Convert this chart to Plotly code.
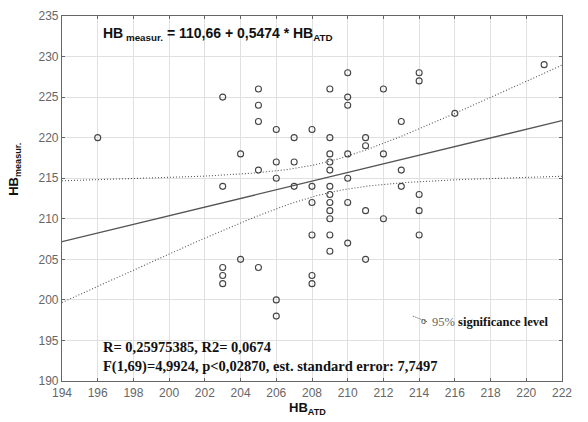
import numpy as np
import plotly.graph_objects as go

# Measured hardness vs. hardness from ATD
hb_atd = [196, 203, 203, 203, 203, 203, 204, 204, 205, 205, 205, 205, 205,
          206, 206, 206, 206, 206, 207, 207, 207, 208, 208, 208, 208, 208, 208,
          209, 209, 209, 209, 209, 209, 209, 209, 209, 209, 209, 209,
          210, 210, 210, 210, 210, 210, 210, 211, 211, 211, 211,
          212, 212, 212, 213, 213, 213, 214, 214, 214, 214, 214, 216, 221]
hb_measured = [220, 225, 214, 204, 203, 202, 218, 205, 226, 224, 222, 216, 204,
               221, 217, 215, 200, 198, 220, 217, 214, 221, 214, 212, 208, 203, 202,
               226, 220, 218, 217, 216, 214, 213, 212, 211, 210, 208, 206,
               228, 225, 224, 218, 215, 212, 207, 220, 219, 211, 205,
               226, 218, 210, 222, 216, 214, 228, 227, 213, 211, 208, 223, 229]

x_ticks = list(range(194, 223, 2))
y_ticks = list(range(190, 236, 5))

equation_text = "HB<sub> measur.</sub> = 110,66 + 0,5474 * HB<sub>ATD</sub>"
stats_line1 = "R= 0,25975385, R2= 0,0674"
stats_line2 = "F(1,69)=4,9924, p<0,02870, est. standard error: 7,7497"
T_CRIT = 1.999

# least-squares line and 95% confidence band of the mean
x = np.array(hb_atd, dtype=float)
y = np.array(hb_measured, dtype=float)
slope, intercept = np.polyfit(x, y, 1)
n = len(x)
resid = y - (intercept + slope * x)
s = np.sqrt(np.sum(resid ** 2) / (n - 2))
sxx = np.sum((x - x.mean()) ** 2)
xs = np.linspace(194, 222, 200)
ys = intercept + slope * xs
half = T_CRIT * s * np.sqrt(1.0 / n + (xs - x.mean()) ** 2 / sxx)

band_line = dict(color="#555", width=1.1, dash="1px,2px")
fig = go.Figure()
fig.add_trace(go.Scatter(x=xs, y=ys + half, mode="lines", line=band_line,
                         hoverinfo="skip"))
fig.add_trace(go.Scatter(x=xs, y=ys - half, mode="lines", line=band_line,
                         hoverinfo="skip"))
fig.add_trace(go.Scatter(x=xs, y=ys, mode="lines",
                         line=dict(color="#555", width=1.3)))
fig.add_trace(go.Scatter(x=hb_atd, y=hb_measured, mode="markers",
                         marker=dict(symbol="circle-open", size=6,
                                     color="#444", line=dict(width=1.1))))

axis_common = dict(showgrid=True, gridcolor="#e0e0e0", gridwidth=1,
                   showline=True, linecolor="#666", linewidth=1.2, mirror="allticks",
                   ticks="inside", ticklen=3, tickcolor="#666", zeroline=False,
                   tickfont=dict(family="Liberation Sans, Arial", size=12, color="#666"))

fig.update_xaxes(range=[194, 222], tickvals=x_ticks, **axis_common)
fig.update_yaxes(range=[190, 235], tickvals=y_ticks, **axis_common)

fig.add_annotation(xref="paper", yref="paper", x=0.078, y=0.95,
                   xanchor="left", yanchor="middle", showarrow=False,
                   text="<b>" + equation_text + "</b>",
                   font=dict(family="Liberation Sans, Arial", size=14, color="#111"))

# regression statistics block
fig.add_annotation(xref="paper", yref="paper", x=0.078, y=0.0645,
                   xanchor="left", yanchor="middle", showarrow=False, align="left",
                   text="<b>" + stats_line1 + "<br>" + stats_line2 + "</b>",
                   font=dict(family="Liberation Serif, Times New Roman", size=14.5, color="#111"))

# legend key for the confidence band
fig.add_shape(type="line", xref="x", yref="y", x0=213.65, y0=198.0, x1=214.45, y1=197.3,
              line=dict(color="#555", width=1, dash="1px,1px"))
fig.add_annotation(x=214.25, y=197.45, xref="x", yref="y", showarrow=False,
                   text="o", font=dict(family="Liberation Sans", size=9, color="#444"))
fig.add_annotation(xref="x", yref="y", x=214.6, y=197.25, xanchor="left",
                   yanchor="middle", showarrow=False,
                   text="<span style='color:#666'>95%</span> <b>significance level</b>",
                   font=dict(family="Liberation Serif, Times New Roman", size=12.5, color="#111"))

# axis titles
fig.add_annotation(xref="paper", yref="paper", x=0.49, y=-0.075,
                   xanchor="center", yanchor="middle", showarrow=False,
                   text="<b>HB<sub>ATD</sub></b>",
                   font=dict(family="Liberation Sans, Arial", size=13, color="#111"))
fig.add_annotation(xref="paper", yref="paper", x=-0.095, y=0.58,
                   xanchor="center", yanchor="middle", showarrow=False, textangle=-90,
                   text="<b>HB<sub>measur.</sub></b>",
                   font=dict(family="Liberation Sans, Arial", size=13, color="#111"))

fig.update_layout(width=588, height=422, showlegend=False,
                  plot_bgcolor="white", paper_bgcolor="white",
                  margin=dict(l=62, r=26, t=9, b=41))

fig.write_html("out.html")
